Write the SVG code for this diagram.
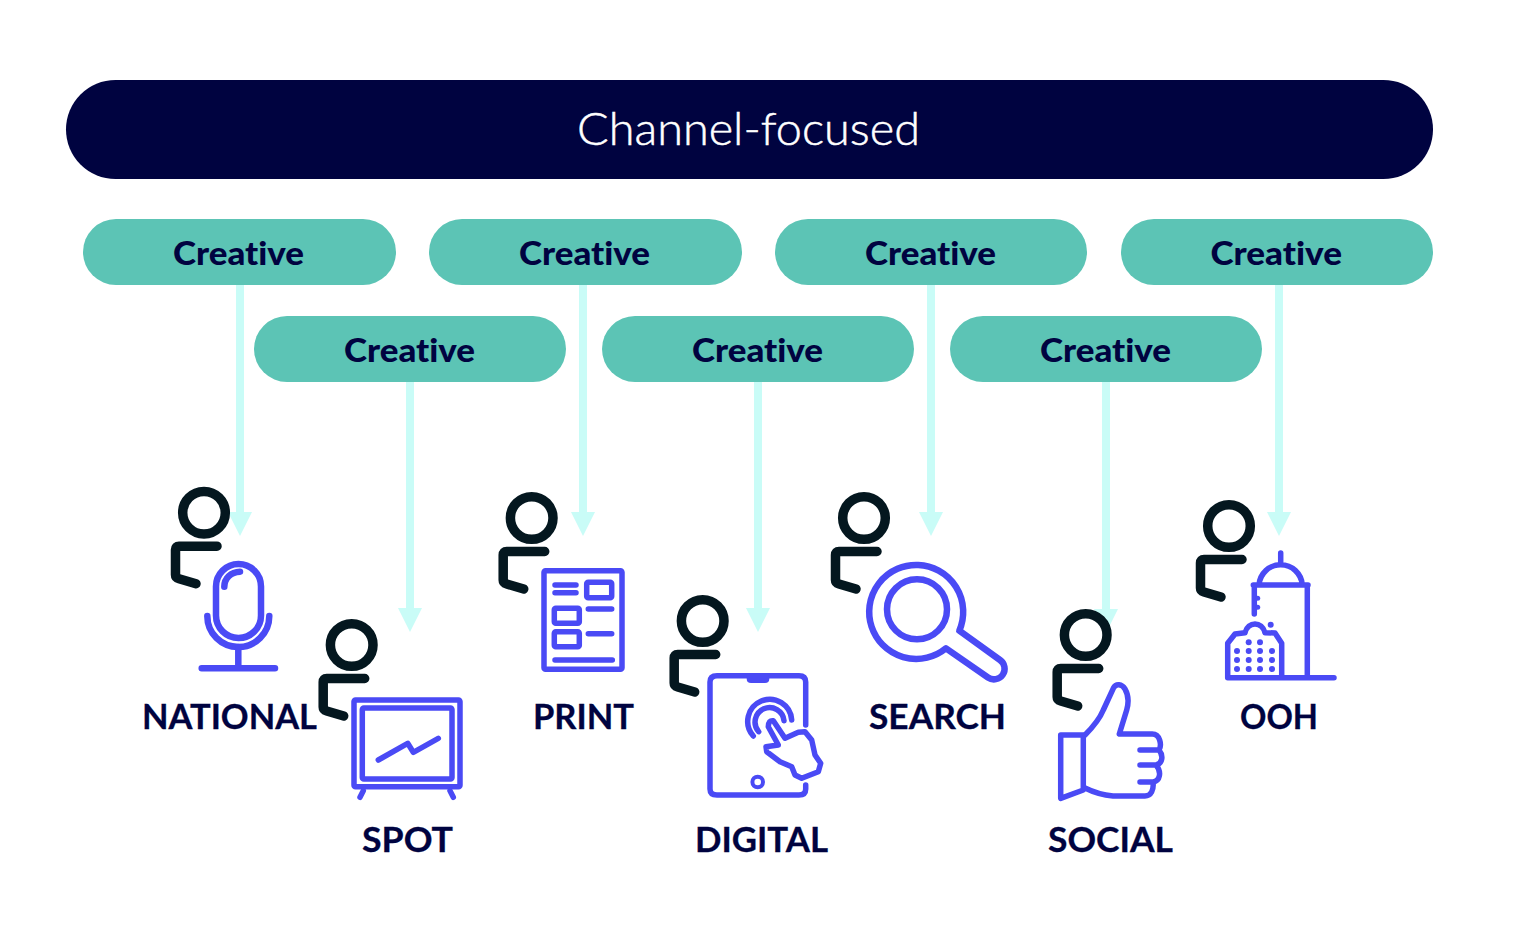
<svg xmlns="http://www.w3.org/2000/svg" xmlns:xlink="http://www.w3.org/1999/xlink" width="1516" height="940" viewBox="0 0 1516 940">
<style>
.pill{fill:#5cc4b5}
.head{fill:#000340}
.t{font-family:"Lato","Liberation Sans",sans-serif;fill:#000340;font-variant-ligatures:none}
.h{font-size:45px;font-weight:300;fill:#fff;stroke:#fff;stroke-width:.5px}
.c{font-size:33px;font-weight:900}
.l{font-size:35px;font-weight:700;stroke:#000340;stroke-width:.3px}
.conn{stroke:#c9fcf7;stroke-width:8;fill:none;marker-end:url(#ah)}
.p{fill:none;stroke:#04171f;stroke-width:9.500;stroke-linecap:round;stroke-linejoin:round}
.i{fill:none;stroke:#4a4af5;stroke-width:5.500;stroke-linecap:round;stroke-linejoin:round}
.w6{stroke-width:6.500}
.w4{stroke-width:4}
.d{fill:#4a4af5}
</style>
<defs>
<marker id="ah" markerUnits="userSpaceOnUse" markerWidth="24" markerHeight="24" viewBox="0 0 24 24" refX="0" refY="12" orient="auto"><path d="M0 0L24 12L0 24Z" fill="#c9fcf7"/></marker>
<g id="person"><circle r="21.300" class="p"/><path class="p" d="M13 33.500H-25Q-28.500 33.500 -28.500 37V62Q-28.500 65 -25 66L-8 71"/></g>
</defs>
<rect width="1516" height="940" fill="#fff"/>
<g id="connectors">
<path class="conn" d="M240 285V512"/>
<path class="conn" d="M410 382V608"/>
<path class="conn" d="M583 285V512"/>
<path class="conn" d="M758 382V608"/>
<path class="conn" d="M931 285V512"/>
<path class="conn" d="M1106 382V609"/>
<path class="conn" d="M1279 285V512"/>
</g>
<g id="header"><rect class="head" x="66" y="80" width="1367" height="99" rx="49.500"/><text class="t h" x="577" y="145" textLength="343" lengthAdjust="spacingAndGlyphs">Channel-focused</text></g>
<g id="creative-1"><rect class="pill" x="83" y="219" width="313" height="66" rx="33"/><text class="t c" x="173" y="265" textLength="131" lengthAdjust="spacingAndGlyphs">Creative</text></g>
<g id="creative-2"><rect class="pill" x="254" y="316" width="312" height="66" rx="33"/><text class="t c" x="344" y="361.500" textLength="131" lengthAdjust="spacingAndGlyphs">Creative</text></g>
<g id="creative-3"><rect class="pill" x="429" y="219" width="313" height="66" rx="33"/><text class="t c" x="519" y="265" textLength="131" lengthAdjust="spacingAndGlyphs">Creative</text></g>
<g id="creative-4"><rect class="pill" x="602" y="316" width="312" height="66" rx="33"/><text class="t c" x="692" y="361.500" textLength="131" lengthAdjust="spacingAndGlyphs">Creative</text></g>
<g id="creative-5"><rect class="pill" x="775" y="219" width="312" height="66" rx="33"/><text class="t c" x="865" y="265" textLength="131" lengthAdjust="spacingAndGlyphs">Creative</text></g>
<g id="creative-6"><rect class="pill" x="950" y="316" width="312" height="66" rx="33"/><text class="t c" x="1040" y="361.500" textLength="131" lengthAdjust="spacingAndGlyphs">Creative</text></g>
<g id="creative-7"><rect class="pill" x="1121" y="219" width="312" height="66" rx="33"/><text class="t c" x="1210.500" y="265" textLength="131.500" lengthAdjust="spacingAndGlyphs">Creative</text></g>

<g id="national">
<use xlink:href="#person" href="#person" x="204" y="512.700"/>
<g class="i w6"><rect x="216" y="564" width="45" height="74" rx="22.500"/><path d="M224.300 586.700C224.300 578 231 572 240 571.700"/><path d="M207.300 616A31 31 0 0 0 269.300 616"/><path d="M238.300 647V668M201.700 668.300H275"/></g>
<text class="t l" x="142" y="728.500" textLength="175" lengthAdjust="spacingAndGlyphs">NATIONAL</text>
</g>
<g id="spot">
<use xlink:href="#person" href="#person" x="351.700" y="645"/>
<g class="i"><rect x="354" y="700" width="106" height="86.700" rx="1.500"/><rect x="362.300" y="708" width="89.700" height="71" rx="1.500"/><path d="M378.300 760L407.700 743.300L413.300 752.300L438.300 738.300M363.300 790.700L360 797.300M450 790.700L453.300 797.300"/></g>
<text class="t l" x="362" y="851.500" textLength="91" lengthAdjust="spacingAndGlyphs">SPOT</text>
</g>
<g id="print">
<use xlink:href="#person" href="#person" x="531.700" y="518"/>
<g class="i"><rect x="544" y="570.700" width="78" height="98.600" rx="1.500"/><path d="M555 585H576M555 592.700H576M588.300 609H611.700M588.300 633.700H611.700M555 660H612.300"/><rect x="586.700" y="582.300" width="25" height="15.400" rx="1.500"/><rect x="554.300" y="608.300" width="25" height="15" rx="1.500"/><rect x="554.300" y="631.700" width="25" height="15" rx="1.500"/></g>
<text class="t l" x="533" y="728.500" textLength="101" lengthAdjust="spacingAndGlyphs">PRINT</text>
</g>
<g id="digital">
<use xlink:href="#person" href="#person" x="702.700" y="621"/>
<g class="i"><path d="M805.700 725V682Q805.700 675.700 799 675.700H717Q710 675.700 710 682V789Q710 795 717 795H799Q805.700 795 805.700 789V785"/><path d="M753.300 736A22 22 0 1 1 791.700 720"/><path d="M758.700 731.700A14.500 14.500 0 1 1 784 720.700"/><path d="M773.300 720.700L785 738.300L798.300 732.300L805 731.700L811.700 740L815 755L820.700 763.300L818.300 771.700L801.700 778.300L795 775L791.700 766.700L780 761.700L766.700 751.700L766 746.700L778.300 745L768.300 726.700Q768.500 720 773.300 720.700Z"/><circle class="w4" cx="757.700" cy="782" r="5.300"/></g>
<path class="d" d="M746.700 674H769.300V679Q769.300 683 765 683H751Q746.700 683 746.700 679Z"/>
<text class="t l" x="695" y="851.500" textLength="133" lengthAdjust="spacingAndGlyphs">DIGITAL</text>
</g>
<g id="search">
<use xlink:href="#person" href="#person" x="864" y="518"/>
<g class="i w6"><circle cx="917" cy="609.300" r="30"/><path d="M946 648.300A47 47 0 1 1 959.300 630.700L1000 660A10.500 10.500 0 0 1 988 677.500Z"/></g>
<text class="t l" x="869" y="728.500" textLength="137" lengthAdjust="spacingAndGlyphs">SEARCH</text>
</g>
<g id="social">
<use xlink:href="#person" href="#person" x="1085.700" y="635"/>
<g class="i"><path d="M1060.700 735H1083.300V790L1060.700 798.300Z"/><path d="M1085 735C1095 725 1100 718 1103.300 710L1113.300 688.300C1116 683 1122 684 1125 689C1129 696 1129 702 1126.700 710L1119.300 734H1152.300C1160 734 1162 745 1159 750H1140M1159 750C1164 756 1162 764 1156 765H1140M1156 765C1162 772 1160 781 1153 782H1140M1153 782C1154 790 1151 796 1145 796H1113C1102 795 1093 792 1085 788"/></g>
<text class="t l" x="1048" y="851.500" textLength="125" lengthAdjust="spacingAndGlyphs">SOCIAL</text>
</g>
<g id="ooh">
<use xlink:href="#person" href="#person" x="1229" y="526"/>
<g class="i"><path d="M1280.700 553V563M1259 585A21.700 21.700 0 0 1 1302.300 585M1253.300 585H1308M1307.300 585V677.700M1254.300 585V614M1227.700 677.700H1334M1227.700 677.700V643.300L1235 634L1245 632.700C1248 621 1262 621 1265 632.700L1275 633L1281.700 643.300V677.700"/></g>
<g class="d"><circle cx="1257.700" cy="598.300" r="2.500"/><circle cx="1257.700" cy="607.300" r="2.500"/><circle cx="1270.700" cy="624.700" r="3"/><circle cx="1248.700" cy="642.300" r="3"/><circle cx="1260" cy="642.300" r="3"/><circle cx="1237" cy="651" r="3"/><circle cx="1248.700" cy="651" r="3"/><circle cx="1260" cy="651" r="3"/><circle cx="1272" cy="651" r="3"/><circle cx="1237" cy="660" r="3"/><circle cx="1248.700" cy="660" r="3"/><circle cx="1260" cy="660" r="3"/><circle cx="1272" cy="660" r="3"/><circle cx="1237" cy="669" r="3"/><circle cx="1248.700" cy="669" r="3"/><circle cx="1260" cy="669" r="3"/><circle cx="1272" cy="669" r="3"/></g>
<text class="t l" x="1240" y="728.500" textLength="78" lengthAdjust="spacingAndGlyphs">OOH</text>
</g>
</svg>
